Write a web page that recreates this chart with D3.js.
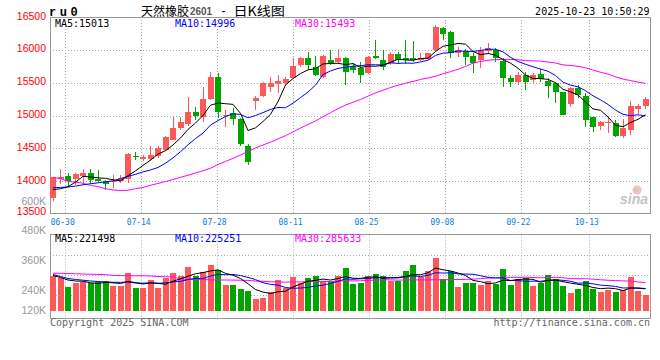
<!DOCTYPE html>
<html>
<head>
<meta charset="utf-8">
<script src="https://cdn.jsdelivr.net/npm/d3@7"></script>
<style>
  body { margin: 0; background: #fff; }
</style>
</head>
<body>
<script>
// trading days shown (80 bars)
const dates = [
  "06-26","06-27","06-30",
  "07-01","07-02","07-03","07-04","07-07","07-08","07-09","07-10","07-11","07-14","07-15","07-16","07-17","07-18",
  "07-21","07-22","07-23","07-24","07-25","07-28","07-29","07-30","07-31",
  "08-01","08-04","08-05","08-06","08-07","08-08","08-11","08-12","08-13","08-14","08-15","08-18","08-19","08-20",
  "08-21","08-22","08-25","08-26","08-27","08-28","08-29",
  "09-01","09-02","09-03","09-04","09-05","09-08","09-09","09-10","09-11","09-12","09-15","09-16","09-17","09-18",
  "09-19","09-22","09-23","09-24","09-25","09-26","09-29","09-30",
  "10-09","10-10","10-13","10-14","10-15","10-16","10-17","10-20","10-21","10-22","10-23"
];
const dateTicks = ["06-30","07-14","07-28","08-11","08-25","09-08","09-22","10-13"];

const open = [
  13740,14030,14075,14030,14080,14130,14040,14010,13980,14010,
  14040,14390,14330,14330,14380,14475,14630,14805,14870,15055,
  14970,15245,15590,14990,15040,14940,14540,15220,15300,15440,
  15480,15500,15570,15770,15870,15745,15590,15845,15820,15870,
  15760,15720,15640,15900,15845,15795,15930,15880,15880,15845,
  15860,16000,16340,16270,15945,15980,15910,15850,15980,15995,
  15830,15565,15515,15615,15540,15630,15530,15490,15365,15170,
  15415,15300,14980,14845,14890,14880,14690,14780,15100,15150
];
const high = [
  14068,14180,14120,14120,14180,14180,14170,14020,14090,14095,
  14430,14450,14400,14535,14530,14690,14970,14970,15280,15135,
  15440,15665,15640,15080,15110,14960,14560,15290,15515,15590,
  15610,15580,15870,15890,15960,15900,15920,16000,16010,15895,
  15800,15820,15900,16150,15990,15960,15960,16150,16130,15950,
  15950,16375,16355,16280,16050,16020,15950,16050,16100,16030,
  15870,15615,15665,15665,15650,15710,15565,15515,15365,15440,
  15465,15340,14980,14915,14965,14925,14945,15220,15180,15285
];
const low = [
  13703,13960,13915,13940,13940,13950,13990,13870,13890,13970,
  13970,14320,14300,14300,14360,14465,14620,14780,14840,14930,
  14905,15235,14960,14820,14855,14530,14250,15085,15285,15360,
  15340,15450,15550,15740,15700,15600,15570,15770,15790,15465,
  15640,15490,15630,15860,15700,15770,15790,15790,15820,15830,
  15840,15970,16150,15870,15885,15770,15645,15720,15945,15820,
  15440,15440,15465,15390,15490,15510,15270,15185,15010,15135,
  15270,14830,14755,14780,14730,14665,14660,14705,15020,15100
];
const close = [
  14068,14060,14000,14110,14130,14020,13995,13960,14000,14050,
  14410,14370,14370,14400,14510,14670,14805,14900,15055,14995,
  15245,15590,15060,15010,14940,14560,14290,15260,15490,15490,
  15530,15550,15755,15870,15770,15620,15910,15795,15880,15670,
  15700,15615,15895,15870,15745,15930,15840,15845,15845,15880,
  15950,16350,16245,15945,15995,15895,15795,16000,16035,15870,
  15565,15515,15615,15515,15615,15550,15455,15365,15010,15415,
  15315,14930,14830,14905,14905,14690,14815,15150,15150,15250
];
const volume = [
  353000,327000,243000,277000,287000,277000,293000,300000,253000,253000,
  383000,230000,230000,310000,233000,333000,383000,350000,443000,353000,
  393000,463000,410000,263000,263000,223000,203000,123000,133000,193000,
  310000,230000,340000,277000,333000,353000,293000,293000,353000,430000,
  270000,283000,353000,373000,353000,300000,300000,403000,463000,343000,
  403000,533000,320000,403000,240000,283000,283000,260000,303000,273000,
  420000,263000,317000,327000,253000,277000,363000,323000,253000,177000,
  223000,300000,223000,193000,207000,193000,207000,343000,203000,163000
];

// moving-average values before the window is full
const priceMa5Lead = [13870,13885,13915,13985];
const priceMa10Lead = [13900,13905,13912,13925,13945,13960,13975,13990,14005];
const priceMa30Lead = [
  14056,14041,13995,13987,13968,13934,13919,13885,13866,13858,
  13861,13885,13904,13937,13965,13995,14025,14059,14089,14124,
  14159,14196,14254,14300,14348,14399,14452,14505,14551
];
const volMa5Lead = [355000,335000,310000,300000];
const volMa10Lead = [365000,345000,325000,315000,308000,300000,295000,290000,287000];
const volMa30Lead = [
  378000,377000,375000,372000,370000,368000,366000,364000,356000,354000,
  353000,352000,352000,351000,345000,343000,342000,320000,318000,317000,
  316000,311000,310000,310000,309000,308000,306000,300000,297000
];

// latest MA values as printed on the chart (MA5, MA10, MA30)
const maNames = ["MA5", "MA10", "MA30"];
const priceMaLast = [15013, 14996, 15493];
const volMaLast = [221498, 225251, 285633];

const priceTicks = [16500,16000,15500,15000,14500,14000,13500];
const volTicks = [600000,480000,360000,240000,120000];

const upColor = "#ff5858", downColor = "#00a500";
const maColors = ["#000000", "#0000ff", "#ff00ff"];
const mono = "'DejaVu Sans Mono', monospace";
const sans = "'Liberation Sans', Arial, sans-serif";

function movingAvg(values, n, lead) {
  return values.map((v, i) => i < n - 1 ? lead[i] : d3.mean(values.slice(i - n + 1, i + 1)));
}

const W = 660, H = 360;
const left = 50, right = 650;
const priceTop = 17, priceBottom = 214;
const volTop = 234.5, volBase = 311, volBottom = 318.5;

const svg = d3.select("body").append("svg")
  .attr("width", W).attr("height", H);

const xBand = d3.scaleBand().domain(d3.range(dates.length))
  .range([left, right]).paddingInner(0.2).paddingOuter(0.1).align(0);
const xGrid = d3.scaleLinear().domain([0, dates.length - 1]).range([left, right]);
const yPrice = d3.scaleLinear().domain([13500, 16500]).range([priceBottom, priceTop]);
const yVol = d3.scaleLinear().domain([0, 770000]).range([volBase, volBase - 77]);
const bw = xBand.bandwidth();
const cx = i => Math.floor(xBand(i) + bw / 2) + 0.5;

const tickIdx = dateTicks.map(t => dates.indexOf(t));
const gx = i => Math.round(xGrid(i)) + 0.5;

// ---- grid ----
const grid = svg.append("g").attr("stroke", "#aaa").attr("stroke-dasharray", "1,2").attr("fill", "none");
priceTicks.slice(1, -1).forEach(v => {
  const y = Math.round(yPrice(v)) + 0.5;
  grid.append("line").attr("x1", left).attr("x2", right).attr("y1", y).attr("y2", y);
});
tickIdx.forEach(i => {
  grid.append("line").attr("x1", gx(i)).attr("x2", gx(i)).attr("y1", priceTop).attr("y2", priceBottom);
  grid.append("line").attr("x1", gx(i)).attr("x2", gx(i)).attr("y1", volTop).attr("y2", volBottom + 2);
});
d3.range(1, 4).forEach(k => {
  const y = Math.round(volTop + k * 20.2) + 0.5;
  grid.append("line").attr("x1", left).attr("x2", right).attr("y1", y).attr("y2", y);
});

// ---- frames ----
svg.append("rect").attr("x", left + 0.5).attr("y", priceTop + 0.5)
  .attr("width", right - left).attr("height", priceBottom - priceTop - 1)
  .attr("fill", "none").attr("stroke", "#999");
svg.append("rect").attr("x", left + 0.5).attr("y", volTop)
  .attr("width", right - left).attr("height", volBottom - volTop)
  .attr("fill", "none").attr("stroke", "#999");

// ---- sina watermark ----
const wm = svg.append("g").attr("opacity", 0.5);
wm.append("circle").attr("cx", 637).attr("cy", 190).attr("r", 4.5).attr("fill", "#f08080");
wm.append("circle").attr("cx", 636).attr("cy", 190.5).attr("r", 2).attr("fill", "#999");
wm.append("text").attr("x", 620).attr("y", 204).text("sina")
  .attr("font-family", sans).attr("font-style", "italic").attr("font-weight", "bold")
  .attr("font-size", 14).attr("fill", "#888");

// ---- candles ----
const candles = svg.append("g");
dates.forEach((d, i) => {
  const up = close[i] >= open[i];
  const col = up ? upColor : downColor;
  candles.append("line")
    .attr("x1", cx(i)).attr("x2", cx(i))
    .attr("y1", Math.round(yPrice(high[i]))).attr("y2", Math.round(yPrice(low[i])))
    .attr("stroke", col).attr("shape-rendering", "crispEdges");
  const yTop = Math.round(yPrice(Math.max(open[i], close[i])));
  const yBot = Math.round(yPrice(Math.min(open[i], close[i])));
  candles.append("rect")
    .attr("x", xBand(i)).attr("width", bw)
    .attr("y", yTop).attr("height", Math.max(1, yBot - yTop))
    .attr("fill", col).attr("shape-rendering", "crispEdges");
});

// ---- volume bars ----
const vols = svg.append("g");
dates.forEach((d, i) => {
  const up = close[i] >= open[i];
  const yv = Math.round(yVol(volume[i]));
  vols.append("rect")
    .attr("x", xBand(i)).attr("width", bw)
    .attr("y", yv).attr("height", volBase - yv)
    .attr("fill", up ? upColor : downColor).attr("shape-rendering", "crispEdges");
});

// ---- moving averages ----
const priceMa = [
  movingAvg(close, 5, priceMa5Lead),
  movingAvg(close, 10, priceMa10Lead),
  movingAvg(close, 30, priceMa30Lead)
];
const volMa = [
  movingAvg(volume, 5, volMa5Lead),
  movingAvg(volume, 10, volMa10Lead),
  movingAvg(volume, 30, volMa30Lead)
];
const priceLine = d3.line().x((v, i) => xBand(i) + bw / 2).y(v => yPrice(v));
const volLine = d3.line().x((v, i) => xBand(i) + bw / 2).y(v => yVol(v));
[2, 1, 0].forEach(k => {
  svg.append("path").attr("d", priceLine(priceMa[k]))
    .attr("fill", "none").attr("stroke", maColors[k]).attr("stroke-width", 1);
  svg.append("path").attr("d", volLine(volMa[k]))
    .attr("fill", "none").attr("stroke", maColors[k]).attr("stroke-width", 1);
});

// ---- MA labels ----
const maLabelX = [55, 175, 295];
maNames.forEach((name, k) => {
  svg.append("text").attr("x", maLabelX[k]).attr("y", 27)
    .text(name + ":" + priceMaLast[k])
    .attr("font-family", mono).attr("font-size", 10).attr("fill", maColors[k]);
  svg.append("text").attr("x", maLabelX[k]).attr("y", 242)
    .text(name + ":" + volMaLast[k])
    .attr("font-family", mono).attr("font-size", 10).attr("fill", maColors[k]);
});

// ---- y axis labels ----
priceTicks.forEach(v => {
  svg.append("text").attr("x", 46).attr("y", Math.min(yPrice(v) + 2.5, 215))
    .attr("text-anchor", "end").text(v)
    .attr("font-family", sans).attr("font-size", 10.5).attr("fill", "#ff0000");
});
const volLabelY = d3.scaleLinear().domain([240000, 600000]).range([293.7, 204.5]);
volTicks.forEach(v => {
  svg.append("text").attr("x", 46).attr("y", Math.min(volLabelY(v), 313.7))
    .attr("text-anchor", "end").text(v / 1000 + "K")
    .attr("font-family", sans).attr("font-size", 10.5).attr("fill", "#999");
});

// ---- date labels ----
tickIdx.forEach((i, k) => {
  svg.append("text").attr("x", xGrid(i) - 2.5).attr("y", 225)
    .attr("text-anchor", "middle").text(dateTicks[k])
    .attr("font-family", mono).attr("font-size", 9)
    .attr("textLength", 24).attr("lengthAdjust", "spacingAndGlyphs")
    .attr("fill", "#0a7ed6");
});

// ---- header ----
svg.append("text").attr("x", 49).attr("y", 15.5).text("ru0")
  .attr("font-family", "'Liberation Mono', monospace").attr("font-weight", "bold")
  .attr("font-size", 12).attr("letter-spacing", 3.5).attr("fill", "#000");
svg.append("text").attr("x", 141).attr("y", 15.5).text("天然橡胶")
  .attr("font-family", "'Noto Sans CJK SC', sans-serif").attr("font-size", 12.5)
  .attr("textLength", 48).attr("lengthAdjust", "spacingAndGlyphs").attr("fill", "#000");
svg.append("text").attr("x", 190).attr("y", 15).text("2601")
  .attr("font-family", sans).attr("font-weight", "bold").attr("font-size", 10.5)
  .attr("textLength", 22).attr("lengthAdjust", "spacingAndGlyphs").attr("fill", "#555");
svg.append("text").attr("x", 221.5).attr("y", 14.5).text("-")
  .attr("font-family", sans).attr("font-size", 12).attr("fill", "#000");
svg.append("text").attr("x", 233.5).attr("y", 15.5).text("日K线图")
  .attr("font-family", "'Noto Sans CJK SC', sans-serif").attr("font-size", 12.5)
  .attr("textLength", 51.5).attr("lengthAdjust", "spacingAndGlyphs").attr("fill", "#000");
svg.append("text").attr("x", 649.5).attr("y", 15).attr("text-anchor", "end")
  .text("2025-10-23 10:50:29")
  .attr("font-family", mono).attr("font-size", 10).attr("fill", "#000");

// ---- footer ----
svg.append("text").attr("x", 50).attr("y", 326).text("Copyright 2025 SINA.COM")
  .attr("font-family", mono).attr("font-size", 10).attr("fill", "#666");
svg.append("text").attr("x", 650).attr("y", 326).attr("text-anchor", "end")
  .text("http://finance.sina.com.cn")
  .attr("font-family", mono).attr("font-size", 10).attr("fill", "#666");
</script>
</body>
</html>
